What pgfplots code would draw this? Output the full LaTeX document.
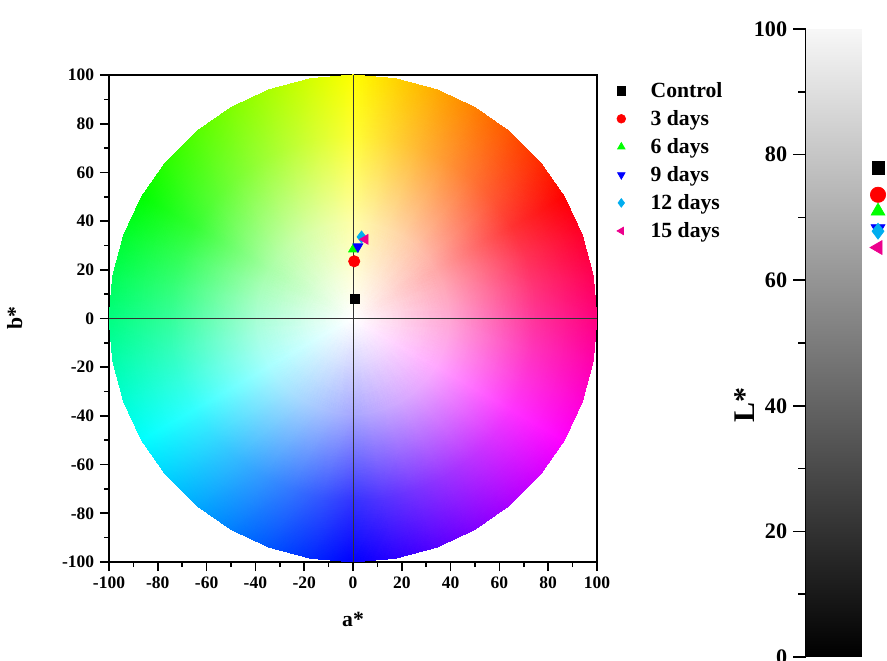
\documentclass[border=0pt]{standalone}
\usepackage{pgfplots}
\pgfplotsset{compat=1.18}
\usepackage{fontspec}
\setmainfont{Liberation Serif}
\begin{document}
\begin{tikzpicture}
\begin{axis}[
  at={(65.4pt,58.8pt)}, anchor=south west,
  scale only axis, width=292.8pt, height=292.2pt,
  xmin=-100, xmax=100, ymin=-100, ymax=100,
  xtick={-100,-80,...,100}, ytick={-100,-80,...,100},
  minor x tick num=1, minor y tick num=1,
  tick pos=left, tick align=outside,
  major tick length=5.4pt, minor tick length=3pt,
  every tick/.style={black, line width=1pt},
  axis line style={line width=0.9pt},
  /pgf/number format/assume math mode=true,
  ticklabel style={font=\fontsize{10.5}{12}\selectfont\bfseries},
  xlabel={a*}, ylabel={b*},
  xlabel style={font=\fontsize{13}{15}\selectfont\bfseries, at={(axis description cs:0.5,-0.119)}, anchor=center},
  ylabel style={font=\fontsize{13}{15}\selectfont\bfseries, at={(axis description cs:-0.193,0.5)}, anchor=center},
  legend style={draw=none, fill=none, at={(1.030,1.0)}, anchor=north west,
    font=\fontsize{13}{15}\selectfont\bfseries, row sep=2.3pt,
    /tikz/every odd column/.append style={column sep=13pt}},
  legend image post style={mark size=2.6pt},
  legend cell align=left,
]
\addplot[surf, shader=interp, mesh/color input=explicit, point meta=explicit symbolic,
  mesh/rows=4, mesh/cols=37, forget plot] table[meta=c] {
x y c
0 0 rgb=1,1,1
0 0 rgb=1,1,1
0 0 rgb=1,1,1
0 0 rgb=1,1,1
0 0 rgb=1,1,1
0 0 rgb=1,1,1
0 0 rgb=1,1,1
0 0 rgb=1,1,1
0 0 rgb=1,1,1
0 0 rgb=1,1,1
0 0 rgb=1,1,1
0 0 rgb=1,1,1
0 0 rgb=1,1,1
0 0 rgb=1,1,1
0 0 rgb=1,1,1
0 0 rgb=1,1,1
0 0 rgb=1,1,1
0 0 rgb=1,1,1
0 0 rgb=1,1,1
0 0 rgb=1,1,1
0 0 rgb=1,1,1
0 0 rgb=1,1,1
0 0 rgb=1,1,1
0 0 rgb=1,1,1
0 0 rgb=1,1,1
0 0 rgb=1,1,1
0 0 rgb=1,1,1
0 0 rgb=1,1,1
0 0 rgb=1,1,1
0 0 rgb=1,1,1
0 0 rgb=1,1,1
0 0 rgb=1,1,1
0 0 rgb=1,1,1
0 0 rgb=1,1,1
0 0 rgb=1,1,1
0 0 rgb=1,1,1
0 0 rgb=1,1,1
40 0 rgb=1,0.65,0.825
39.39 6.94 rgb=1,0.65,0.767
37.59 13.68 rgb=1,0.65,0.708
34.64 20 rgb=1,0.65,0.65
30.64 25.71 rgb=1,0.708,0.65
25.71 30.64 rgb=1,0.767,0.65
20 34.64 rgb=1,0.825,0.65
13.68 37.59 rgb=1,0.883,0.65
6.94 39.39 rgb=1,0.942,0.65
0 40 rgb=1,1,0.65
-6.94 39.39 rgb=0.942,1,0.65
-13.68 37.59 rgb=0.883,1,0.65
-20 34.64 rgb=0.825,1,0.65
-25.71 30.64 rgb=0.767,1,0.65
-30.64 25.71 rgb=0.708,1,0.65
-34.64 20 rgb=0.65,1,0.65
-37.59 13.68 rgb=0.65,1,0.708
-39.39 6.94 rgb=0.65,1,0.767
-40 0 rgb=0.65,1,0.825
-39.39 -6.94 rgb=0.65,1,0.883
-37.59 -13.68 rgb=0.65,1,0.942
-34.64 -20 rgb=0.65,1,1
-30.64 -25.71 rgb=0.65,0.942,1
-25.71 -30.64 rgb=0.65,0.883,1
-20 -34.64 rgb=0.65,0.825,1
-13.68 -37.59 rgb=0.65,0.767,1
-6.94 -39.39 rgb=0.65,0.708,1
0 -40 rgb=0.65,0.65,1
6.94 -39.39 rgb=0.708,0.65,1
13.68 -37.59 rgb=0.767,0.65,1
20 -34.64 rgb=0.825,0.65,1
25.71 -30.64 rgb=0.883,0.65,1
30.64 -25.71 rgb=0.942,0.65,1
34.64 -20 rgb=1,0.65,1
37.59 -13.68 rgb=1,0.65,0.942
39.39 -6.94 rgb=1,0.65,0.883
40 0 rgb=1,0.65,0.825
75 0 rgb=1,0.2,0.6
73.86 13.02 rgb=1,0.2,0.467
70.48 25.65 rgb=1,0.2,0.333
64.95 37.5 rgb=1,0.2,0.2
57.45 48.21 rgb=1,0.333,0.2
48.21 57.45 rgb=1,0.467,0.2
37.5 64.95 rgb=1,0.6,0.2
25.65 70.48 rgb=1,0.733,0.2
13.02 73.86 rgb=1,0.867,0.2
0 75 rgb=1,1,0.2
-13.02 73.86 rgb=0.867,1,0.2
-25.65 70.48 rgb=0.733,1,0.2
-37.5 64.95 rgb=0.6,1,0.2
-48.21 57.45 rgb=0.467,1,0.2
-57.45 48.21 rgb=0.333,1,0.2
-64.95 37.5 rgb=0.2,1,0.2
-70.48 25.65 rgb=0.2,1,0.333
-73.86 13.02 rgb=0.2,1,0.467
-75 0 rgb=0.2,1,0.6
-73.86 -13.02 rgb=0.2,1,0.733
-70.48 -25.65 rgb=0.2,1,0.867
-64.95 -37.5 rgb=0.2,1,1
-57.45 -48.21 rgb=0.2,0.867,1
-48.21 -57.45 rgb=0.2,0.733,1
-37.5 -64.95 rgb=0.2,0.6,1
-25.65 -70.48 rgb=0.2,0.467,1
-13.02 -73.86 rgb=0.2,0.333,1
0 -75 rgb=0.2,0.2,1
13.02 -73.86 rgb=0.333,0.2,1
25.65 -70.48 rgb=0.467,0.2,1
37.5 -64.95 rgb=0.6,0.2,1
48.21 -57.45 rgb=0.733,0.2,1
57.45 -48.21 rgb=0.867,0.2,1
64.95 -37.5 rgb=1,0.2,1
70.48 -25.65 rgb=1,0.2,0.867
73.86 -13.02 rgb=1,0.2,0.733
75 0 rgb=1,0.2,0.6
100 0 rgb=1,0,0.5
98.48 17.36 rgb=1,0,0.333
93.97 34.20 rgb=1,0,0.167
86.60 50 rgb=1,0,0
76.60 64.28 rgb=1,0.167,0
64.28 76.60 rgb=1,0.333,0
50 86.60 rgb=1,0.5,0
34.20 93.97 rgb=1,0.667,0
17.36 98.48 rgb=1,0.833,0
0 100 rgb=1,1,0
-17.36 98.48 rgb=0.833,1,0
-34.20 93.97 rgb=0.667,1,0
-50 86.60 rgb=0.5,1,0
-64.28 76.60 rgb=0.333,1,0
-76.60 64.28 rgb=0.167,1,0
-86.60 50 rgb=0,1,0
-93.97 34.20 rgb=0,1,0.167
-98.48 17.36 rgb=0,1,0.333
-100 0 rgb=0,1,0.5
-98.48 -17.36 rgb=0,1,0.667
-93.97 -34.20 rgb=0,1,0.833
-86.60 -50 rgb=0,1,1
-76.60 -64.28 rgb=0,0.833,1
-64.28 -76.60 rgb=0,0.667,1
-50 -86.60 rgb=0,0.5,1
-34.20 -93.97 rgb=0,0.333,1
-17.36 -98.48 rgb=0,0.167,1
0 -100 rgb=0,0,1
17.36 -98.48 rgb=0.167,0,1
34.20 -93.97 rgb=0.333,0,1
50 -86.60 rgb=0.5,0,1
64.28 -76.60 rgb=0.667,0,1
76.60 -64.28 rgb=0.833,0,1
86.60 -50 rgb=1,0,1
93.97 -34.20 rgb=1,0,0.833
98.48 -17.36 rgb=1,0,0.667
100 0 rgb=1,0,0.5
};
\addplot[black!80, line width=0.6pt, forget plot] coordinates {(-100,0) (100,0)};
\addplot[black!80, line width=0.6pt, forget plot] coordinates {(0,-100) (0,100)};
\addplot[only marks, mark=square*, mark size=2.8pt, mark options={fill=black, draw=black}] coordinates {(0.8,8)};
\addlegendentry{Control}
\addplot[only marks, mark=*, mark size=3.4pt, mark options={fill=red, draw=red}] coordinates {(0.5,23.5)};
\addlegendentry{3 days}
\addplot[only marks, mark=triangle*, mark size=3.4pt, mark options={fill=green, draw=green}] coordinates {(0.2,28.5)};
\addlegendentry{6 days}
\addplot[only marks, mark=triangle*, mark size=3.4pt, mark options={fill=blue, draw=blue, rotate=180}] coordinates {(2,29.5)};
\addlegendentry{9 days}
\addplot[only marks, mark=diamond*, mark size=3.6pt, mark options={fill=cyan, draw=cyan}] coordinates {(3.5,33.5)};
\addlegendentry{12 days}
\addplot[only marks, mark=triangle*, mark size=3.4pt, mark options={fill=magenta, draw=magenta, rotate=90}] coordinates {(5,32.5)};
\addlegendentry{15 days}
\end{axis}

\begin{axis}[
  at={(483.6pt,1.8pt)}, anchor=south west,
  scale only axis, width=48.6pt, height=376.8pt,
  xmin=0, xmax=1, ymin=0, ymax=100,
  hide x axis, axis y line*=left,
  ytick={0,20,...,100}, minor y tick num=1,
  tick align=outside,
  major tick length=7.8pt, minor tick length=4.8pt,
  every tick/.style={black, line width=1pt},
  axis line style={line width=1pt},
  /pgf/number format/assume math mode=true,
  ticklabel style={font=\fontsize{13.3}{15}\selectfont\bfseries},
  ylabel={L*},
  ylabel style={font=\fontsize{18}{20}\selectfont\bfseries, at={(axis description cs:-0.753,0.401)}, anchor=center},
  clip=false,
  colormap={lgray}{gray(0cm)=(0); gray(1cm)=(0.97)},
  point meta min=0, point meta max=100,
]
\addplot[surf, shader=interp, point meta=y, mesh/rows=2, mesh/cols=2, forget plot] coordinates {(0,0) (0.69,0) (0,100) (0.69,100)};
\addplot[only marks, mark=square*, mark size=3.7pt, mark options={fill=black, draw=black}] coordinates {(0.889,77.9)};
\addplot[only marks, mark=*, mark size=4.6pt, mark options={fill=red, draw=red}] coordinates {(0.889,73.6)};
\addplot[only marks, mark=triangle*, mark size=4.8pt, mark options={fill=green, draw=green}] coordinates {(0.889,71.0)};
\addplot[only marks, mark=triangle*, mark size=4.8pt, mark options={fill=blue, draw=blue, rotate=180}] coordinates {(0.889,68.2)};
\addplot[only marks, mark=diamond*, mark size=4.8pt, mark options={fill=cyan, draw=cyan}] coordinates {(0.889,67.8)};
\addplot[only marks, mark=triangle*, mark size=4.8pt, mark options={fill=magenta, draw=magenta, rotate=90}] coordinates {(0.889,65.2)};
\end{axis}
\pgfresetboundingbox
\useasboundingbox (0,0) rectangle (532.2pt,396pt);
\end{tikzpicture}
\end{document}
